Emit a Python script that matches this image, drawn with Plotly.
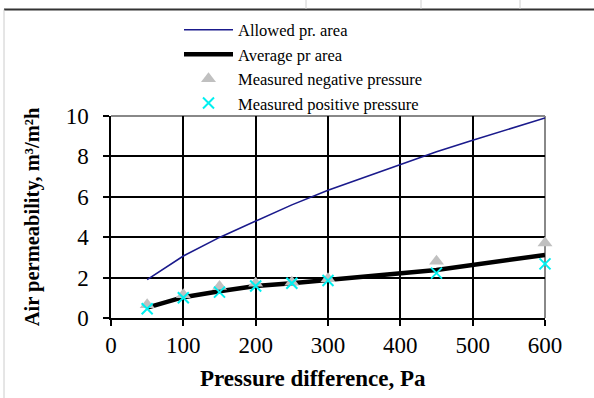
import plotly.graph_objects as go

# ---- data ----
allowed_x = [50, 100, 150, 200, 250, 300, 350, 400, 450, 500, 550, 600]
allowed_y = [1.9, 3.07, 3.99, 4.81, 5.6, 6.32, 6.97, 7.6, 8.23, 8.8, 9.35, 9.9]

average_x = [50, 100, 150, 200, 250, 300, 450, 600]
average_y = [0.51, 1.03, 1.32, 1.58, 1.72, 1.88, 2.38, 3.12]

meas_x = [50, 100, 150, 200, 250, 300, 450, 600]
neg_y = [0.65, 1.15, 1.56, 1.72, 1.77, 1.94, 2.81, 3.71]
pos_y = [0.46, 1.0, 1.28, 1.58, 1.72, 1.86, 2.22, 2.68]

x_ticks = [0, 100, 200, 300, 400, 500, 600]
y_ticks = [0, 2, 4, 6, 8, 10]

x_title = "Pressure difference, Pa"
y_title = "Air permeability, m³/m²h"

SERIF = "Liberation Serif, Times New Roman, serif"

fig = go.Figure()
fig.add_trace(go.Scatter(x=allowed_x, y=allowed_y, mode="lines",
                         name="Allowed pr. area",
                         line=dict(color="#1a1a8c", width=1.6)))
fig.add_trace(go.Scatter(x=average_x, y=average_y, mode="lines",
                         name="Average pr area", cliponaxis=False,
                         line=dict(color="black", width=4.5)))
fig.add_trace(go.Scatter(x=meas_x, y=neg_y, mode="markers",
                         name="Measured negative pressure", cliponaxis=False,
                         marker=dict(symbol="triangle-up", size=13, color="#c0c0c0",
                                     line=dict(width=0))))
fig.add_trace(go.Scatter(x=meas_x, y=pos_y, mode="markers",
                         name="Measured positive pressure", cliponaxis=False,
                         marker=dict(symbol="x-thin", size=11,
                                     line=dict(color="#00f0f0", width=2))))

W, H = 594, 398
L, R, T, B = 111, 49, 116, 80
pw, ph = W - L - R, H - T - B

def px_x(p):
    return (p - L) / pw

def px_y(p):
    return (H - B - p) / ph

shapes = [
    # plot area right/top border (gray)
    dict(type="line", xref="paper", yref="paper", x0=0, x1=1, y0=1, y1=1,
         line=dict(color="#888888", width=2), layer="below"),
    dict(type="line", xref="paper", yref="paper", x0=1, x1=1, y0=0, y1=1,
         line=dict(color="#888888", width=2), layer="below"),
    # outer frame
    dict(type="line", xref="paper", yref="paper", x0=px_x(4), x1=px_x(W), y0=px_y(9.5), y1=px_y(9.5),
         line=dict(color="#333333", width=2)),
    dict(type="line", xref="paper", yref="paper", x0=px_x(4), x1=px_x(4), y0=px_y(9.5), y1=px_y(H),
         line=dict(color="#cccccc", width=1)),
]
for cx in (306, 421, 520):
    shapes.append(dict(type="line", xref="paper", yref="paper", x0=px_x(cx), x1=px_x(cx),
                       y0=px_y(0), y1=px_y(9), line=dict(color="#d0d0d0", width=1)))

fig.update_layout(
    width=W, height=H,
    margin=dict(l=L, r=R, t=T, b=B),
    paper_bgcolor="white", plot_bgcolor="white",
    font=dict(family=SERIF, color="black"),
    showlegend=True,
    legend=dict(x=px_x(179), y=px_y(12.5), xanchor="left", yanchor="top",
                font=dict(family=SERIF, size=16.5, color="black"),
                bgcolor="rgba(0,0,0,0)", itemwidth=49, tracegroupgap=0),
    xaxis=dict(range=[0, 600], tickvals=x_ticks, ticks="outside", ticklen=6,
               tickwidth=1.5, tickcolor="black",
               showline=True, linecolor="black", linewidth=1.5,
               showgrid=True, gridcolor="black", gridwidth=1.5, zeroline=False,
               tickfont=dict(family=SERIF, size=23)),
    yaxis=dict(range=[0, 10], tickvals=y_ticks, ticks="outside", ticklen=6,
               tickwidth=1.5, tickcolor="black",
               showline=True, linecolor="black", linewidth=1.5,
               showgrid=True, gridcolor="black", gridwidth=1.5, zeroline=False,
               tickfont=dict(family=SERIF, size=23), ticklabelstandoff=10,
               title=dict(text="<b>" + y_title + "</b>", font=dict(family=SERIF, size=20.5),
                          standoff=20)),
    annotations=[dict(text="<b>" + x_title + "</b>", xref="paper", yref="paper",
                      x=px_x(313), y=px_y(378), xanchor="center", yanchor="middle",
                      showarrow=False, font=dict(family=SERIF, size=23))],
    shapes=shapes,
)

fig.write_html("out.html")
